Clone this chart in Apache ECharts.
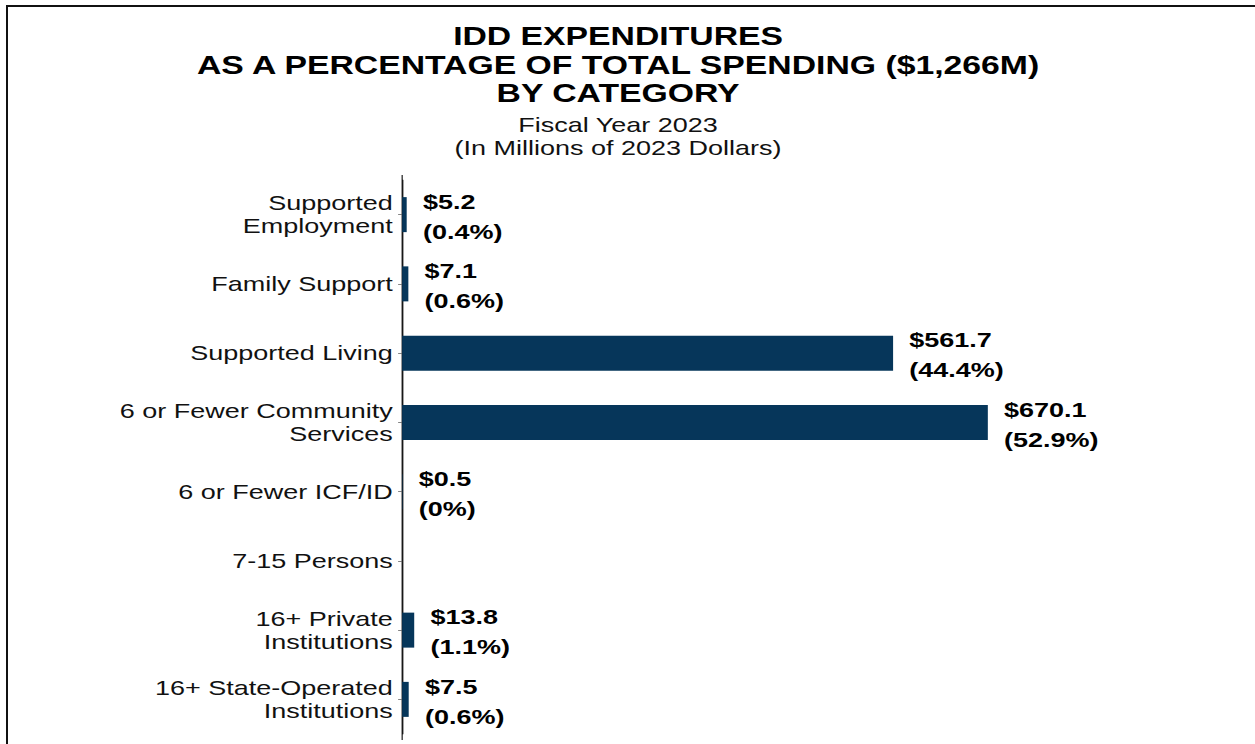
<!DOCTYPE html>
<html>
<head>
<meta charset="utf-8">
<script src="https://cdn.jsdelivr.net/npm/echarts@6/dist/echarts.min.js"></script>
<style>
  html, body { margin: 0; padding: 0; background: #fff; }
  body { width: 1255px; height: 744px; position: relative; overflow: hidden; }
  #frame {
    position: absolute; left: 6px; top: 5px; width: 1249px; height: 739px;
    border-left: 2px solid #111; border-top: 2px solid #111;
  }
  /* the reference picture is stretched sideways, so the chart is drawn narrower and widened */
  #main {
    position: absolute; left: 0; top: 0; width: 930px; height: 744px;
    transform: scaleX(1.3495); transform-origin: 0 0;
  }
</style>
</head>
<body>
<div id="frame"></div>
<div id="main"></div>
<script>
const categories = [
  "Supported\nEmployment",
  "Family Support",
  "Supported Living",
  "6 or Fewer Community\nServices",
  "6 or Fewer ICF/ID",
  "7-15 Persons",
  "16+ Private\nInstitutions",
  "16+ State-Operated\nInstitutions",
];
const spending = [5.2, 7.1, 561.7, 670.1, 0.5, 0, 13.8, 7.5];
const shares = ["0.4%", "0.6%", "44.4%", "52.9%", "0%", "", "1.1%", "0.6%"];

const font = "'Liberation Sans', Arial, sans-serif";
const chart = echarts.init(document.getElementById("main"), null, { renderer: "svg" });

chart.setOption({
  animation: false,
  title: [
    {
      text: "IDD EXPENDITURES\nAS A PERCENTAGE OF TOTAL SPENDING ($1,266M)\nBY CATEGORY",
      left: 458,
      top: 22,
      padding: 0,
      textAlign: "center",
      textStyle: { fontFamily: font, fontSize: 25, fontWeight: "bold", color: "#000", lineHeight: 28.5 },
    },
    {
      text: "Fiscal Year 2023\n(In Millions of 2023 Dollars)",
      left: 458,
      top: 113,
      padding: 0,
      textAlign: "center",
      textStyle: { fontFamily: font, fontSize: 20, fontWeight: "normal", color: "#111", lineHeight: 23 },
    },
  ],
  grid: { left: 298, top: 180, width: 434, bottom: 10 },
  xAxis: { type: "value", min: 0, max: 670.1, show: false },
  yAxis: {
    type: "category",
    inverse: true,
    data: categories,
    axisLine: { show: true, lineStyle: { color: "#000", width: 0.8 } },
    axisTick: { show: true, length: 3, alignWithLabel: true, lineStyle: { color: "#666", width: 0.8 } },
    axisLabel: {
      margin: 7,
      padding: [6, 0, 0, 0],
      fontFamily: font,
      fontSize: 20,
      lineHeight: 23,
      color: "#111",
    },
    splitLine: { show: false },
  },
  series: [
    {
      type: "bar",
      data: spending,
      barWidth: 35,
      itemStyle: { color: "#06365a" },
      label: {
        show: true,
        position: "right",
        distance: 12,
        offset: [0, 2],
        formatter: (p) => (p.value === 0 ? "" : "$" + p.value.toFixed(1) + "\n(" + shares[p.dataIndex] + ")"),
        fontFamily: font,
        fontSize: 20,
        fontWeight: "bold",
        lineHeight: 30,
        color: "#000",
      },
    },
  ],
  // the axis line in the reference runs a little past the first and last band
  graphic: [
    {
      type: "line",
      shape: { x1: 298, y1: 175, x2: 298, y2: 740 },
      style: { stroke: "#000", lineWidth: 0.8 },
    },
  ],
});
</script>
</body>
</html>
